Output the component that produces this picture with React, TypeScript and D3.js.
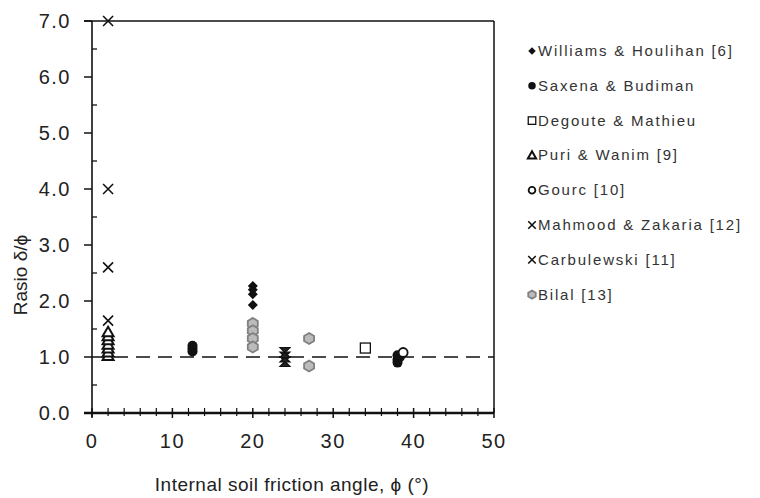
import React from "react";
import * as d3 from "d3";

const williamsX = [20, 20, 20, 20];
const williamsY = [2.27, 2.2, 2.12, 1.93];
const saxenaX = [12.5, 12.5, 12.5, 38, 38, 38.3, 38];
const saxenaY = [1.1, 1.15, 1.2, 0.9, 0.95, 1.0, 1.03];
const degouteX = [34];
const degouteY = [1.16];
const puriX = [2, 2, 2, 2, 2, 2, 2];
const puriY = [1.02, 1.08, 1.15, 1.22, 1.3, 1.37, 1.44];
const gourcX = [38.7];
const gourcY = [1.08];
const mahmoodX = [2, 2, 2, 2];
const mahmoodY = [7.0, 4.0, 2.6, 1.65];
const carbX = [24, 24, 24];
const carbY = [0.92, 1.0, 1.08];
const bilalX = [20, 20, 20, 20, 27, 27];
const bilalY = [1.6, 1.47, 1.33, 1.18, 1.33, 0.84];

const legendLabels = [
  "Williams & Houlihan [6]",
  "Saxena & Budiman",
  "Degoute & Mathieu",
  "Puri & Wanim [9]",
  "Gourc [10]",
  "Mahmood & Zakaria [12]",
  "Carbulewski [11]",
  "Bilal [13]",
];
const xTicks = [0, 10, 20, 30, 40, 50];
const yTicks = [0, 1, 2, 3, 4, 5, 6, 7];

type Kind = "diamond" | "circle" | "square" | "triangle" | "ocircle" | "cross" | "hour" | "grey";

function Marker({ kind, x, y, s = 1 }: { kind: Kind; x: number; y: number; s?: number }) {
  switch (kind) {
    case "diamond":
      return <path d={`M${x},${y - 5 * s}L${x + 5 * s},${y}L${x},${y + 5 * s}L${x - 5 * s},${y}Z`} fill="#111" />;
    case "circle":
      return <circle cx={x} cy={y} r={5 * s} fill="#111" />;
    case "square":
      return <rect x={x - 5 * s} y={y - 5 * s} width={10 * s} height={10 * s} fill="#fff" stroke="#111" strokeWidth={1.3} />;
    case "triangle":
      return <path d={`M${x},${y - 5.5 * s}L${x + 5.5 * s},${y + 4 * s}L${x - 5.5 * s},${y + 4 * s}Z`} fill="#fff" stroke="#111" strokeWidth={2} />;
    case "ocircle":
      return <circle cx={x} cy={y} r={4.5 * s} fill="#fff" stroke="#111" strokeWidth={1.8} />;
    case "cross":
      return <path d={`M${x - 5 * s},${y - 5 * s}L${x + 5 * s},${y + 5 * s}M${x + 5 * s},${y - 5 * s}L${x - 5 * s},${y + 5 * s}`} stroke="#111" strokeWidth={1.6} />;
    case "hour":
      return <path d={`M${x - 5 * s},${y - 5 * s}L${x + 5 * s},${y - 5 * s}L${x - 5 * s},${y + 5 * s}L${x + 5 * s},${y + 5 * s}Z`} fill="#222" stroke="#111" strokeWidth={1.2} />;
    case "grey":
      return <path d={`M${x},${y - 5.5 * s}L${x + 5 * s},${y - 2.5 * s}L${x + 5 * s},${y + 2.5 * s}L${x},${y + 5.5 * s}L${x - 5 * s},${y + 2.5 * s}L${x - 5 * s},${y - 2.5 * s}Z`} fill="#bbb" stroke="#808080" strokeWidth={1.8} />;
  }
  return null;
}

export default function App() {
  const W = 760, H = 498;
  const x = d3.scaleLinear().domain([0, 50]).range([92, 494]);
  const y = d3.scaleLinear().domain([0, 7]).range([413, 21]);
  const font = "Arial, 'Liberation Sans', sans-serif";

  const series: { kind: Kind; xs: number[]; ys: number[] }[] = [
    { kind: "triangle", xs: puriX, ys: puriY },
    { kind: "grey", xs: bilalX, ys: bilalY },
    { kind: "diamond", xs: williamsX, ys: williamsY },
    { kind: "circle", xs: saxenaX, ys: saxenaY },
    { kind: "square", xs: degouteX, ys: degouteY },
    { kind: "ocircle", xs: gourcX, ys: gourcY },
    { kind: "cross", xs: mahmoodX, ys: mahmoodY },
    { kind: "hour", xs: carbX, ys: carbY },
  ];
  const legendKinds: Kind[] = ["diamond", "circle", "square", "triangle", "ocircle", "cross", "cross", "grey"];
  const legendY = legendLabels.map((_, i) => 51 + i * 34.8);

  const minorX = d3.range(0, 51, 2).filter((v) => v % 10 !== 0);
  const minorY = d3.range(0.5, 7, 1);

  return (
    <svg width={W} height={H} style={{ position: "absolute", left: 0, top: 0, background: "#fff" }}>
      <rect width={W} height={H} fill="#fff" />
      {/* frame */}
      <line x1={84} x2={x(50)} y1={y(7)} y2={y(7)} stroke="#111" strokeWidth={1.5} />
      <line x1={x(50)} x2={x(50)} y1={y(7)} y2={y(0)} stroke="#111" strokeWidth={1.5} />
      <line x1={x(0)} x2={x(0)} y1={y(7)} y2={y(0) + 4} stroke="#111" strokeWidth={1.6} />
      <line x1={84} x2={x(50)} y1={y(0)} y2={y(0)} stroke="#111" strokeWidth={2.4} />
      {/* y ticks */}
      {yTicks.map((t) => (
        <g key={"yt" + t}>
          <line x1={84} x2={x(0)} y1={y(t)} y2={y(t)} stroke="#111" strokeWidth={1.5} />
          <text x={71} y={y(t) + 7} textAnchor="end" fontSize={20} letterSpacing={1.5} fontFamily={font} fill="#222">
            {t.toFixed(1)}
          </text>
        </g>
      ))}
      {minorY.map((t) => (
        <line key={"ym" + t} x1={x(0)} x2={x(0) + 5} y1={y(t)} y2={y(t)} stroke="#111" strokeWidth={1.3} />
      ))}
      {/* x ticks */}
      {xTicks.map((t) => (
        <g key={"xt" + t}>
          <line x1={x(t)} x2={x(t)} y1={y(0) - 5} y2={y(0) + 5} stroke="#111" strokeWidth={1.5} />
          <text x={x(t)} y={y(0) + 35} textAnchor="middle" fontSize={20} letterSpacing={1.5} fontFamily={font} fill="#222">
            {t}
          </text>
        </g>
      ))}
      {minorX.map((t) => (
        <line key={"xm" + t} x1={x(t)} x2={x(t)} y1={y(0) - 5} y2={y(0) + 3} stroke="#111" strokeWidth={1.2} />
      ))}
      {/* reference line */}
      <line x1={x(0)} x2={x(50)} y1={y(1)} y2={y(1)} stroke="#111" strokeWidth={1.6} strokeDasharray="14,8" />
      {/* points */}
      {series.map((s, i) => (
        <g key={"s" + i}>
          {s.xs.map((v, j) => (
            <Marker key={j} kind={s.kind} x={x(v)} y={y(s.ys[j])} />
          ))}
        </g>
      ))}
      {/* axis titles */}
      <text x={292} y={491} textAnchor="middle" fontSize={19} letterSpacing={0.5} fontFamily={font} fill="#222">
        Internal soil friction angle, ϕ (°)
      </text>
      <text transform={`translate(27,275) rotate(-90)`} textAnchor="middle" fontSize={19} fontFamily={font} fill="#222">
        Rasio δ/ϕ
      </text>
      {/* legend */}
      {legendLabels.map((l, i) => (
        <g key={"lg" + i}>
          <Marker kind={legendKinds[i]} x={532} y={legendY[i]} s={0.75} />
          <text x={538} y={legendY[i] + 5} fontSize={15} letterSpacing={1.8} fontFamily={font} fill="#333">
            {l}
          </text>
        </g>
      ))}
    </svg>
  );
}
